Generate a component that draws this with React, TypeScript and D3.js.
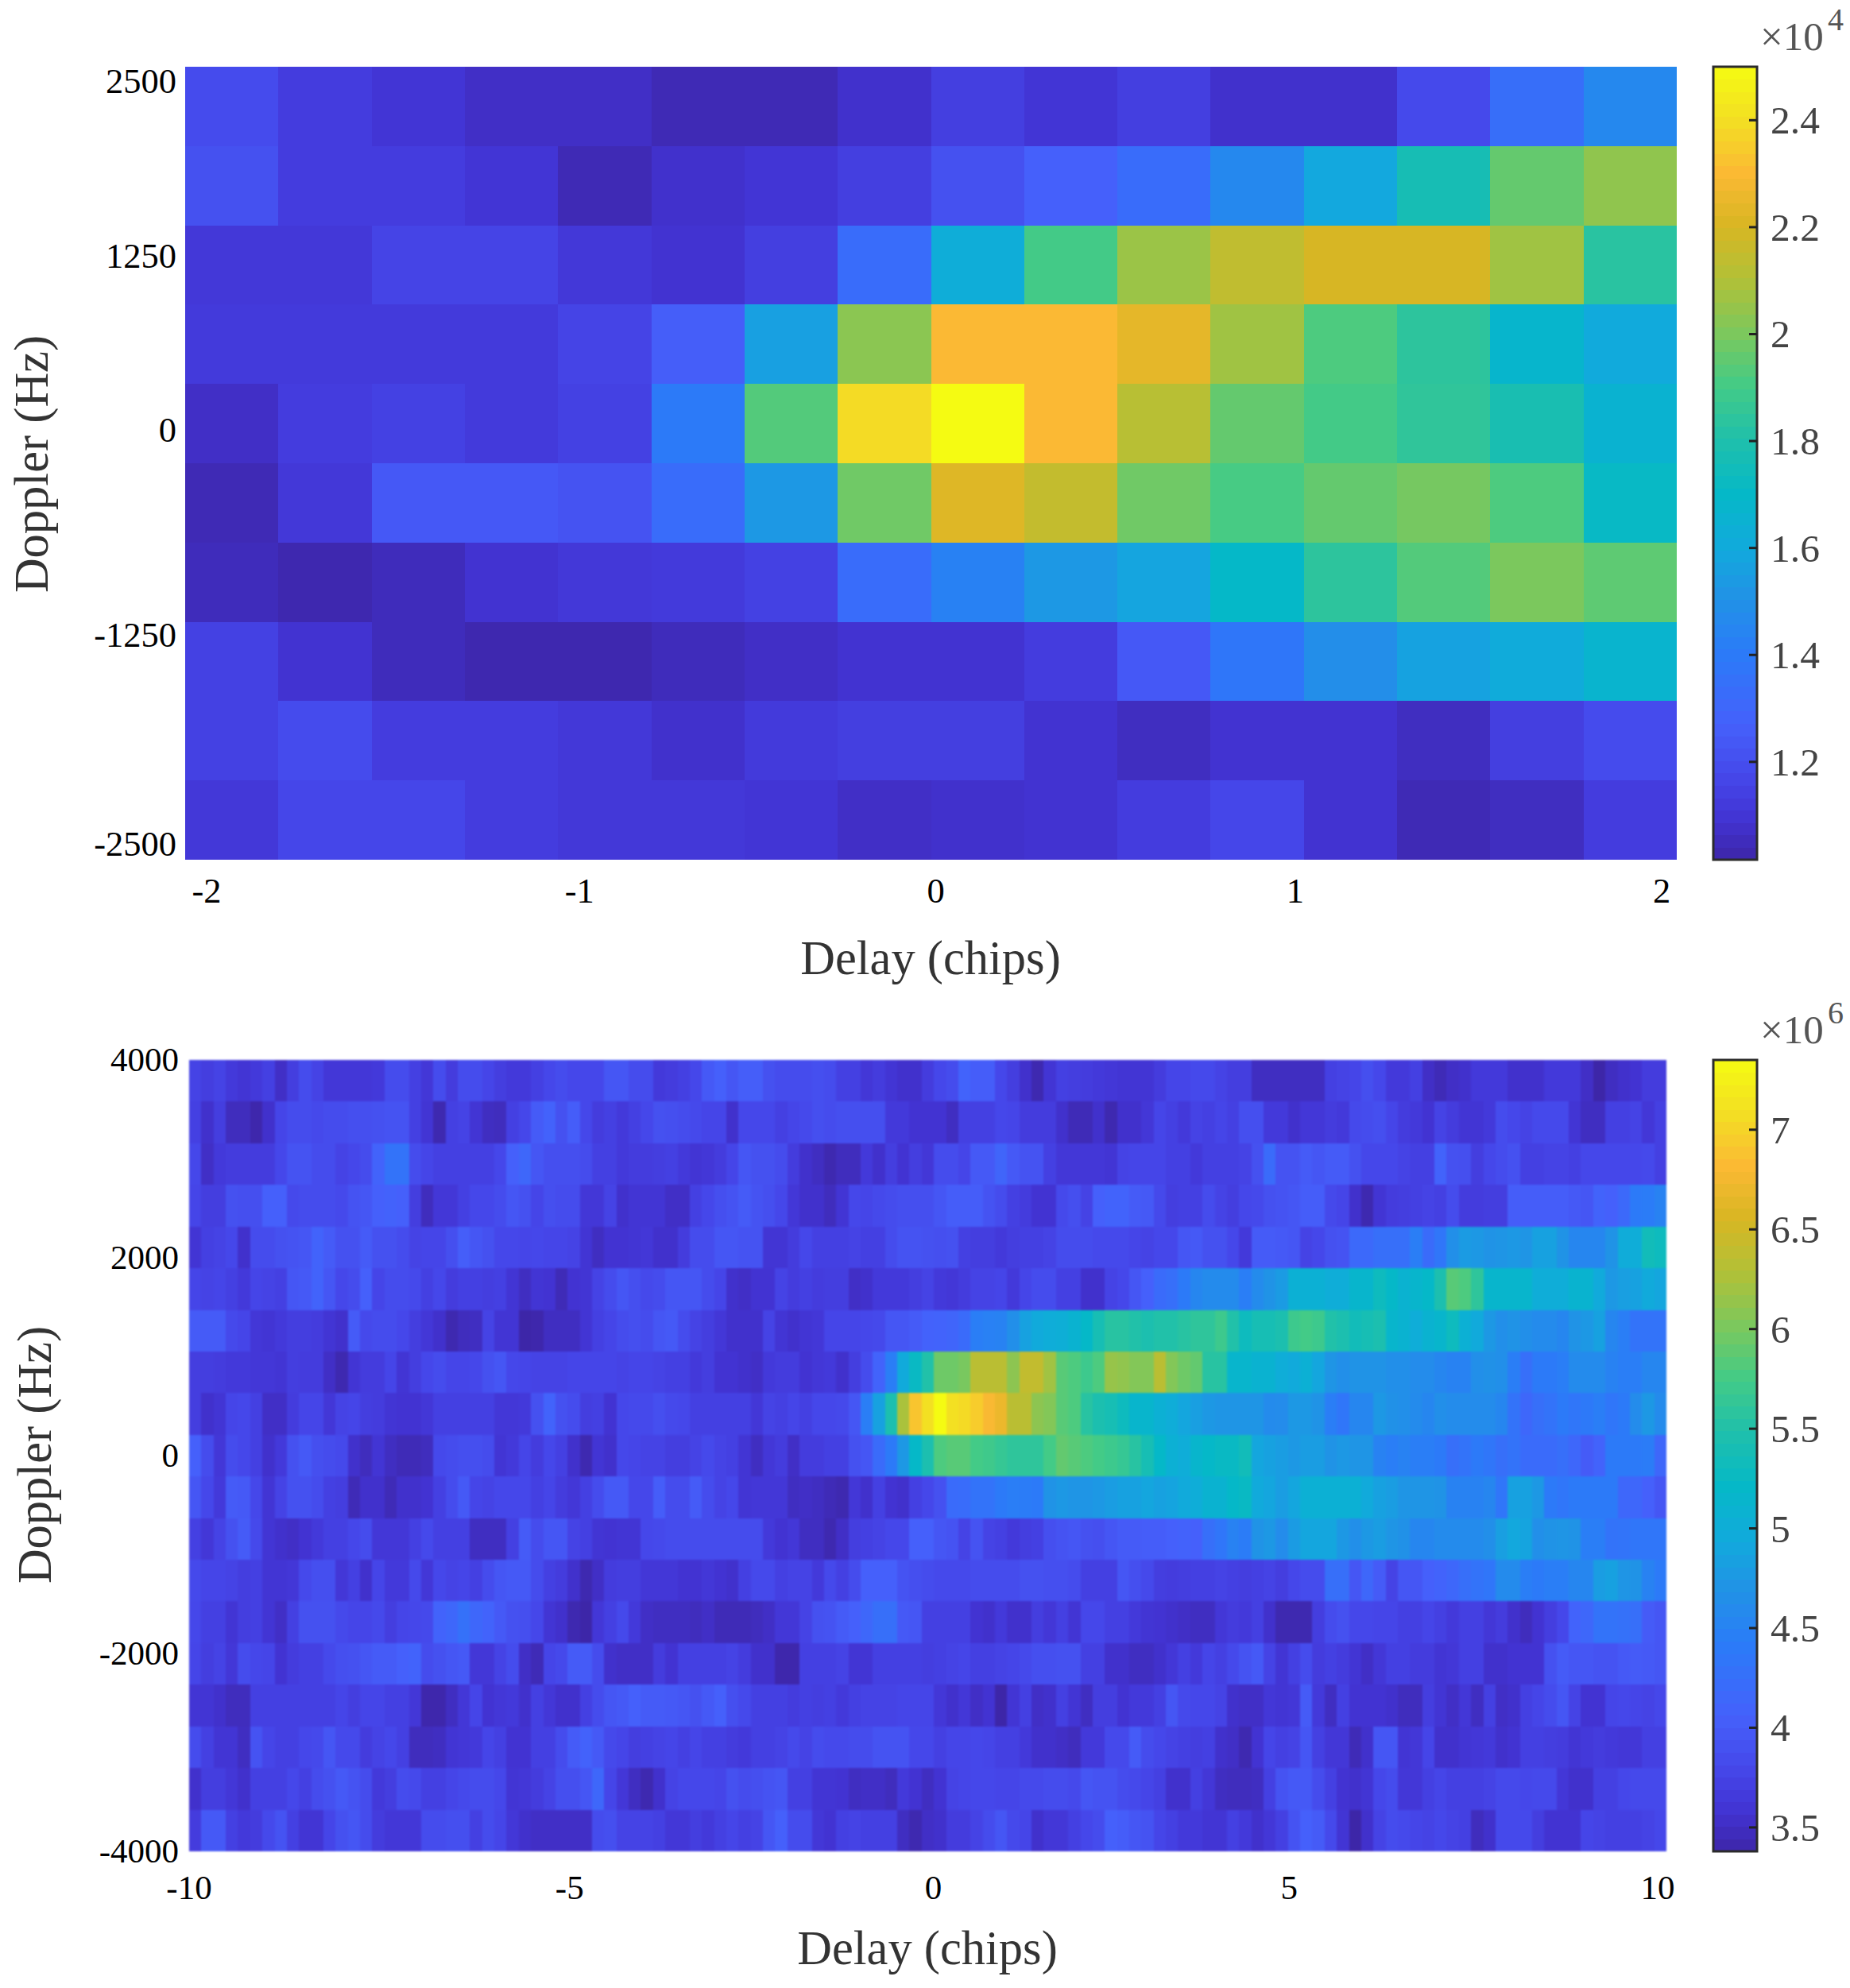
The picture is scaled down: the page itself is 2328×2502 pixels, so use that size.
import React from "react";
import * as d3 from "d3";

// Upper panel: received power, x 1e4, rows listed top (2500 Hz) to bottom (-2500 Hz)
const upperRow0 = [1.19,1.13,1.10,1.07,1.07,1.04,1.04,1.08,1.14,1.10,1.14,1.08,1.08,1.18,1.34,1.46];
const upperRow1 = [1.21,1.13,1.13,1.10,1.04,1.08,1.10,1.14,1.21,1.27,1.33,1.46,1.59,1.77,1.96,2.04];
const upperRow2 = [1.11,1.11,1.16,1.16,1.11,1.09,1.14,1.33,1.62,1.90,2.06,2.14,2.20,2.20,2.07,1.83];
const upperRow3 = [1.12,1.12,1.12,1.12,1.16,1.26,1.56,2.03,2.30,2.30,2.24,2.07,1.92,1.84,1.68,1.60];
const upperRow4 = [1.07,1.13,1.15,1.12,1.15,1.40,1.93,2.39,2.50,2.30,2.12,1.96,1.90,1.85,1.78,1.66];
const upperRow5 = [1.04,1.11,1.24,1.24,1.22,1.33,1.53,1.98,2.22,2.15,1.98,1.91,1.96,1.99,1.92,1.71];
const upperRow6 = [1.05,1.03,1.05,1.09,1.11,1.12,1.15,1.33,1.43,1.53,1.58,1.70,1.84,1.93,2.00,1.95];
const upperRow7 = [1.15,1.09,1.05,1.03,1.03,1.05,1.07,1.09,1.09,1.13,1.24,1.38,1.49,1.57,1.61,1.67];
const upperRow8 = [1.15,1.19,1.13,1.13,1.11,1.08,1.12,1.14,1.14,1.09,1.06,1.09,1.09,1.06,1.14,1.19];
const upperRow9 = [1.11,1.17,1.17,1.13,1.11,1.11,1.10,1.07,1.08,1.09,1.13,1.17,1.09,1.04,1.06,1.13];
const upperRows = [upperRow0,upperRow1,upperRow2,upperRow3,upperRow4,upperRow5,upperRow6,upperRow7,upperRow8,upperRow9];

// Lower panel: power in units of 1e4, so 375 reads 3.75 x 1e6; rows top (4000 Hz) to bottom (-4000 Hz)
const lowerRow0 = [375,370,375,365,360,365,372,352,370,385, 375,362,362,362,362,365,385,385,372,362, 385,368,385,385,378,370,365,365,372,380, 385,380,380,380,395,395,385,385,365,368, 372,380,398,405,395,403,403,390,385,385, 385,388,385,372,372,362,368,360,355,355, 368,380,385,410,402,402,380,370,355,342, 360,372,370,368,365,362,360,360,360,368, 378,378,382,382,375,370,370,350,350,350, 350,350,350,372,375,378,388,380,365,365, 372,352,345,352,355,365,365,365,355,355, 355,365,365,365,352,338,350,355,358,368,368];
const lowerRow1 = [372,355,370,348,348,340,355,378,385,385, 382,385,385,388,388,390,392,392,372,360, 342,372,375,360,350,348,372,380,400,408, 390,402,380,368,372,365,372,380,390,388, 385,382,378,378,355,380,380,380,372,378, 382,388,385,388,388,388,388,365,365,358, 358,358,350,372,372,372,380,378,368,368, 368,355,345,345,355,342,355,355,362,378, 372,365,375,372,378,372,388,388,365,365, 355,362,362,368,365,382,385,388,378,368, 365,358,375,368,360,360,365,385,380,375, 382,382,382,360,350,350,372,372,375,362,372];
const lowerRow2 = [380,352,365,368,368,368,368,380,392,392, 385,385,375,380,385,410,430,430,385,378, 372,372,372,372,372,380,405,415,395,388, 388,388,385,372,372,365,368,368,370,372, 365,360,362,368,378,395,390,390,385,368, 355,350,342,348,348,365,355,370,358,370, 362,385,385,378,398,398,412,398,392,392, 372,362,362,362,362,360,375,378,378,378, 372,372,365,372,372,372,375,390,420,392, 392,400,395,400,400,390,380,380,380,375, 372,372,410,390,388,370,380,385,390,372, 372,375,375,372,380,380,380,380,380,382,372];
const lowerRow3 = [378,370,370,390,388,388,405,405,382,385, 385,385,382,392,395,405,408,405,370,348, 362,362,372,380,380,385,395,390,378,388, 385,385,362,362,375,355,360,360,360,352, 352,372,380,388,392,400,392,388,380,362, 355,355,348,360,380,378,382,385,388,388, 388,395,402,402,402,392,385,372,368,358, 358,382,388,375,405,410,410,400,398,382, 370,372,372,385,375,370,380,382,390,392, 395,402,402,382,378,355,342,360,368,370, 372,375,372,385,368,368,370,370,402,402, 402,402,402,398,395,410,405,418,440,442,450];
const lowerRow4 = [360,372,375,380,355,385,385,390,392,395, 410,400,390,390,400,390,390,385,375,378, 378,388,403,395,390,380,380,378,380,378, 378,375,360,350,358,358,360,362,355,355, 368,385,385,395,395,392,392,360,360,368, 380,372,372,372,375,372,372,385,392,392, 390,388,390,372,370,370,365,370,372,372, 375,385,385,385,382,382,382,378,375,380, 380,395,398,390,390,380,365,400,400,398, 395,375,380,390,392,418,418,425,425,425, 445,420,435,465,478,475,470,472,475,472, 485,485,470,455,455,455,470,498,500,535,530];
const lowerRow5 = [378,375,378,372,365,378,375,372,395,398, 410,395,380,385,405,378,385,385,382,372, 380,368,372,372,370,372,360,350,360,358, 345,358,360,375,385,395,388,382,385,395, 395,395,385,378,355,352,358,358,375,368, 372,368,370,370,352,355,365,365,365,370, 375,365,362,368,375,375,378,365,378,385, 385,372,372,355,355,375,380,395,405,420, 425,440,455,460,460,460,445,460,470,478, 505,505,505,500,500,515,515,530,520,510, 515,520,545,585,580,560,515,515,515,515, 500,500,500,512,512,495,475,482,485,495,490];
const lowerRow6 = [400,400,400,382,378,362,360,365,370,370, 368,360,355,400,382,385,385,380,370,362, 355,342,348,350,375,360,360,338,340,350, 350,350,360,372,378,385,388,385,395,398, 385,375,370,362,355,355,355,375,360,355, 360,362,378,378,378,380,382,395,395,400, 408,410,412,420,445,448,450,465,485,495, 500,502,510,520,540,555,555,550,545,550, 550,555,560,560,570,550,530,540,540,545, 570,575,570,550,545,535,540,545,515,510, 500,510,515,530,505,495,475,465,470,465, 460,460,455,470,475,485,455,445,430,430,430];
const lowerRow7 = [370,370,368,365,365,362,362,360,370,368, 368,352,342,360,368,368,378,360,370,380, 385,378,378,380,390,395,380,378,375,375, 375,378,378,378,378,375,378,378,375,372, 372,365,370,358,358,355,352,365,368,368, 358,362,365,355,370,385,410,445,495,525, 550,595,595,600,635,635,635,610,640,640, 620,585,580,570,580,615,612,605,605,635, 605,595,590,555,555,515,515,510,510,500, 495,505,490,472,465,470,470,470,465,465, 462,462,455,450,450,465,468,465,445,425, 440,440,445,460,460,460,450,445,445,455,455];
const lowerRow8 = [370,355,360,378,380,372,352,352,368,378, 378,362,375,378,370,368,360,358,358,362, 372,372,372,372,372,362,362,365,390,410, 390,385,370,372,358,380,382,382,388,382, 380,372,372,372,372,372,362,375,372,378, 372,380,380,382,395,445,485,545,625,690, 710,735,710,705,695,680,670,635,635,610, 605,585,580,555,545,540,530,515,515,505, 500,490,482,475,472,472,472,472,460,462, 475,475,470,445,435,455,455,475,468,465, 460,455,465,462,462,462,462,455,430,415, 425,430,440,435,438,445,435,440,462,475,460];
const lowerRow9 = [405,385,362,385,380,372,355,365,390,398, 388,385,382,355,348,360,350,345,345,348, 382,385,388,388,385,360,365,378,368,380, 372,355,342,360,355,380,378,375,375,370, 370,375,382,375,372,360,350,362,368,352, 368,368,372,372,390,395,420,440,475,520, 545,580,585,585,575,572,565,560,560,560, 575,590,585,580,575,570,565,555,540,520, 505,500,515,520,525,525,535,490,485,480, 475,480,480,470,475,472,472,450,445,450, 445,445,440,425,430,440,435,425,430,420, 420,420,425,415,400,410,440,440,440,442,415];
const lowerRow10 = [395,380,365,400,398,380,360,375,390,390, 385,372,370,345,355,355,345,355,355,358, 372,385,398,378,375,380,380,380,372,378, 368,362,372,385,398,398,380,380,402,385, 385,400,385,375,380,360,362,362,362,350, 352,350,345,342,362,355,372,358,355,372, 380,390,420,422,430,430,440,445,442,440, 470,475,472,472,475,480,485,485,490,485, 488,495,500,510,510,520,525,495,490,480, 490,505,505,505,505,505,495,485,480,472, 472,472,470,450,450,450,455,435,485,485, 475,440,435,440,440,440,440,415,415,405,395];
const lowerRow11 = [372,362,375,390,400,382,360,355,352,358, 365,372,372,380,385,362,362,362,372,382, 372,372,372,350,350,350,372,400,385,395, 395,375,372,360,358,360,360,380,382,385, 385,385,385,385,385,385,385,365,358,362, 350,350,342,352,370,372,375,380,380,405, 405,395,392,375,392,375,372,365,370,372, 388,392,395,390,388,395,400,400,402,402, 405,408,405,425,435,450,442,470,475,462, 478,490,490,490,475,465,475,480,472,468, 455,455,460,460,460,460,465,482,492,488, 465,470,472,470,445,445,430,432,435,435,435];
const lowerRow12 = [382,378,378,375,370,372,360,360,362,382, 388,388,362,372,355,378,365,365,382,362, 380,375,378,372,385,395,398,398,385,372, 368,355,342,352,368,370,370,362,362,362, 358,358,362,358,355,372,382,382,372,375, 375,365,382,372,385,405,405,405,392,388, 385,382,382,382,385,385,385,385,390,390, 388,388,385,372,372,372,395,388,382,370, 368,370,372,372,375,372,370,372,375,370, 380,385,385,425,425,395,415,400,375,395, 395,405,410,415,425,430,435,460,460,445, 440,445,445,455,455,480,485,472,470,450,440];
const lowerRow13 = [380,372,372,360,370,372,360,352,372,390, 390,390,382,378,378,382,370,378,380,382, 410,415,428,415,410,398,390,388,380,360, 355,342,338,362,372,382,365,352,350,350, 350,348,352,345,345,345,348,352,362,362, 375,390,392,400,405,415,425,425,398,395, 372,372,372,372,358,355,365,355,355,370, 362,372,360,380,380,372,372,365,360,358, 355,352,350,350,362,368,365,372,355,342, 342,342,370,385,390,380,380,378,378,372, 372,378,372,365,372,372,362,368,355,348, 358,370,380,410,415,430,430,428,425,400,395];
const lowerRow14 = [378,370,375,362,385,380,378,358,368,372, 372,382,388,390,395,400,400,405,410,385, 390,395,398,362,362,375,385,352,345,378, 382,400,400,385,355,352,352,352,368,358, 372,372,372,372,375,368,355,355,340,340, 372,372,372,375,360,360,372,372,372,372, 370,372,375,378,372,372,375,378,382,388, 388,390,390,372,372,355,355,350,350,355, 362,372,365,378,372,382,392,398,375,360, 372,385,368,372,368,360,352,362,372,372, 368,368,360,362,372,372,355,355,358,358, 358,390,400,395,395,392,392,398,400,398,395];
const lowerRow15 = [360,360,355,348,348,372,372,372,372,372, 372,372,378,370,378,378,372,372,362,340, 340,350,362,378,358,362,365,355,372,362, 355,355,372,385,395,398,405,400,400,398, 395,390,398,405,388,382,372,372,372,368, 372,370,372,365,372,375,375,375,378,378, 378,362,355,362,352,358,338,360,372,352, 355,372,360,350,370,370,358,365,365,372, 395,382,380,380,375,355,352,352,362,360, 362,400,365,350,372,358,358,358,355,348, 348,370,360,352,362,350,372,352,355,372, 378,385,395,375,358,358,378,380,378,375,380];
const lowerRow16 = [385,372,360,360,350,392,378,372,372,380, 382,395,382,382,368,375,380,372,348,348, 350,360,362,365,378,372,358,358,372,372, 385,400,408,398,382,378,370,372,375,378, 372,378,372,372,368,365,372,372,375,382, 375,385,382,382,385,385,392,392,392,380, 380,372,378,378,380,378,372,372,365,355, 355,352,348,365,365,382,382,400,385,380, 375,372,370,372,355,352,342,358,378,372, 375,395,372,362,362,345,355,395,395,360, 362,378,355,355,360,362,365,355,358,372, 372,370,368,360,365,368,365,362,362,372,372];
const lowerRow17 = [355,370,370,362,355,372,372,372,380,372, 385,390,398,392,385,365,370,385,382,372, 372,378,382,385,385,380,360,362,368,375, 388,388,395,415,378,362,350,342,355,375, 380,380,380,378,390,385,388,392,395,372, 372,360,360,358,350,352,352,348,365,358, 350,358,375,378,380,380,378,378,382,382, 385,385,382,395,392,392,385,382,378,372, 355,355,372,362,350,348,348,350,372,392, 398,398,385,372,358,355,360,380,385,362, 362,372,378,372,372,372,375,382,382,380, 382,382,362,355,355,372,372,380,382,382,382];
const lowerRow18 = [368,398,398,372,365,368,382,392,372,360, 360,378,390,395,385,368,362,362,362,385, 385,388,388,372,385,378,362,355,352,352, 352,352,352,385,388,375,375,375,372,362, 362,370,365,372,378,372,375,395,405,385, 385,362,358,372,375,372,372,372,350,342, 352,355,368,368,375,385,395,382,378,355, 362,362,372,380,385,405,402,395,392,378, 372,365,365,360,360,372,365,355,362,372, 392,405,400,382,360,338,355,375,385,382, 378,375,380,375,372,348,355,382,382,382, 370,358,358,358,378,375,372,372,372,375,380];
const lowerRows = [lowerRow0,lowerRow1,lowerRow2,lowerRow3,lowerRow4,lowerRow5,lowerRow6,lowerRow7,lowerRow8,lowerRow9,lowerRow10,lowerRow11,lowerRow12,lowerRow13,lowerRow14,lowerRow15,lowerRow16,lowerRow17,lowerRow18];

const upperXTicks = [-2, -1, 0, 1, 2];
const upperYTicks = [2500, 1250, 0, -1250, -2500];
const upperBarTicks = [1.2, 1.4, 1.6, 1.8, 2, 2.2, 2.4];
const lowerXTicks = [-10, -5, 0, 5, 10];
const lowerYTicks = [4000, 2000, 0, -2000, -4000];
const lowerBarTicks = [3.5, 4, 4.5, 5, 5.5, 6, 6.5, 7];

const parulaStops = ["#3d26a8","#4233d2","#4545e8","#4560fb","#2b7bf8","#2192e6","#12a9dd","#05b8c8","#1fc0ab","#45cb85","#79c85f","#b0c138","#d8b623","#fbb934","#f3dd24","#f5fb12"];
const parulaAt = [0,0.05,0.1,0.17,0.26,0.33,0.39,0.46,0.53,0.6,0.66,0.73,0.8,0.865,0.93,1];
const parula = d3.scaleLinear<string>().domain(parulaAt).range(parulaStops).interpolate(d3.interpolateRgb).clamp(true);

const FONT = "'Liberation Serif', 'Times New Roman', serif";

type PanelProps = {
  id: string; rows: number[][]; vmin: number; vmax: number; unit: number;
  left: number; right: number; top: number; bottom: number;
  xDomain: [number, number]; yDomain: [number, number];
  xTicks: number[]; yTicks: number[]; barTicks: number[];
  xNudge: number[]; yNudge: number[]; tickSize: number; blur: number;
  xLabelY: number; yLabelRight: number;
  xTitleX: number; xTitleY: number; yTitleX: number; yTitleY: number;
  exponent: string;
};

function Panel(p: PanelProps) {
  const nCols = p.rows[0].length;
  const nRows = p.rows.length;
  const col = d3.scaleLinear().domain([0, nCols]).range([p.left, p.right]);
  const row = d3.scaleLinear().domain([0, nRows]).range([p.top, p.bottom]);
  const t = d3.scaleLinear().domain([p.vmin, p.vmax]).range([0, 1]).clamp(true);
  const x = d3.scaleLinear().domain(p.xDomain).range([p.left, p.right]);
  const y = d3.scaleLinear().domain(p.yDomain).range([p.bottom, p.top]);
  const barX0 = 2156, barX1 = 2211;
  const barY = d3.scaleLinear().domain([p.vmin, p.vmax]).range([p.bottom, p.top]);
  const steps = d3.range(64);
  const stepH = (p.bottom - p.top) / 64;
  return (
    <g fontFamily={FONT}>
      <defs>
        <filter id={p.id} x="-1%" y="-1%" width="102%" height="102%" colorInterpolationFilters="sRGB">
          <feGaussianBlur stdDeviation={p.blur} />
        </filter>
      </defs>
      <g shapeRendering="crispEdges" filter={`url(#${p.id})`}>
        {p.rows.map((r, i) =>
          r.map((v, j) => (
            <rect key={`${i}-${j}`} x={col(j)} y={row(i)} width={col(j + 1) - col(j) + (j < nCols - 1 ? 0.5 : 0)} height={row(i + 1) - row(i) + (i < nRows - 1 ? 0.5 : 0)} fill={parula(t(v / p.unit))} />
          ))
        )}
      </g>
      {p.xTicks.map((v, i) => (
        <text key={v} x={x(v) + p.xNudge[i]} y={p.xLabelY} fontSize={p.tickSize} textAnchor="middle" fill="#000">{String(v)}</text>
      ))}
      {p.yTicks.map((v, i) => (
        <text key={v} x={p.yLabelRight} y={y(v) + p.yNudge[i] + 14} fontSize={p.tickSize} textAnchor="end" fill="#000">{String(v)}</text>
      ))}
      <text x={p.xTitleX} y={p.xTitleY} fontSize={60.5} textAnchor="middle" fill="#333">Delay (chips)</text>
      <text transform={`translate(${p.yTitleX},${p.yTitleY}) rotate(-90)`} fontSize={60.5} textAnchor="middle" fill="#333">Doppler (Hz)</text>
      <g shapeRendering="crispEdges">
        {steps.map((s) => (
          <rect key={s} x={barX0} y={p.bottom - (s + 1) * stepH} width={barX1 - barX0} height={stepH + 0.5} fill={parula((s + 0.5) / 64)} />
        ))}
      </g>
      <rect x={barX0} y={p.top} width={barX1 - barX0} height={p.bottom - p.top} fill="none" stroke="#2b2b2b" strokeWidth={3} />
      {p.barTicks.map((v) => (
        <g key={v}>
          <line x1={barX1 - 10} x2={barX1} y1={barY(v)} y2={barY(v)} stroke="#222" strokeWidth={3} />
          <text x={2228} y={barY(v) + 17} fontSize={49.5} fill="#444">{String(v)}</text>
        </g>
      ))}
      <text x={2215} y={p.top - 21} fontSize={51} fill="#555">×10</text>
      <text x={2300} y={p.top - 46} fontSize={40} fill="#555">{p.exponent}</text>
    </g>
  );
}

export default function App() {
  return (
    <svg width={2328} height={2502} viewBox="0 0 2328 2502" style={{ position: "absolute", left: 0, top: 0, display: "block", background: "#fff" }}>
      <Panel id="softUpper" blur={0.7} tickSize={44.5} rows={upperRows} vmin={1.017} vmax={2.5} unit={1}
        left={233} right={2110} top={84} bottom={1082}
        xDomain={[-2, 2]} yDomain={[-2500, 2500]}
        xTicks={upperXTicks} yTicks={upperYTicks} barTicks={upperBarTicks}
        xNudge={[27, 27, 6, -11, -19]} yNudge={[19, -11, -41, -33, -19]}
        xLabelY={1136} yLabelRight={222}
        xTitleX={1171} xTitleY={1226} yTitleX={60} yTitleY={584} exponent="4" />
      <Panel id="softLower" blur={1.3} tickSize={43} rows={lowerRows} vmin={3.38} vmax={7.35} unit={100}
        left={238} right={2097} top={1334} bottom={2330}
        xDomain={[-10, 10]} yDomain={[-4000, 4000]}
        xTicks={lowerXTicks} yTicks={lowerYTicks} barTicks={lowerBarTicks}
        xNudge={[0, 14, 7, -10, -11]} yNudge={[0, 0, 0, 0, 0]}
        xLabelY={2390} yLabelRight={225}
        xTitleX={1167} xTitleY={2472} yTitleX={64} yTitleY={1831} exponent="6" />
    </svg>
  );
}
